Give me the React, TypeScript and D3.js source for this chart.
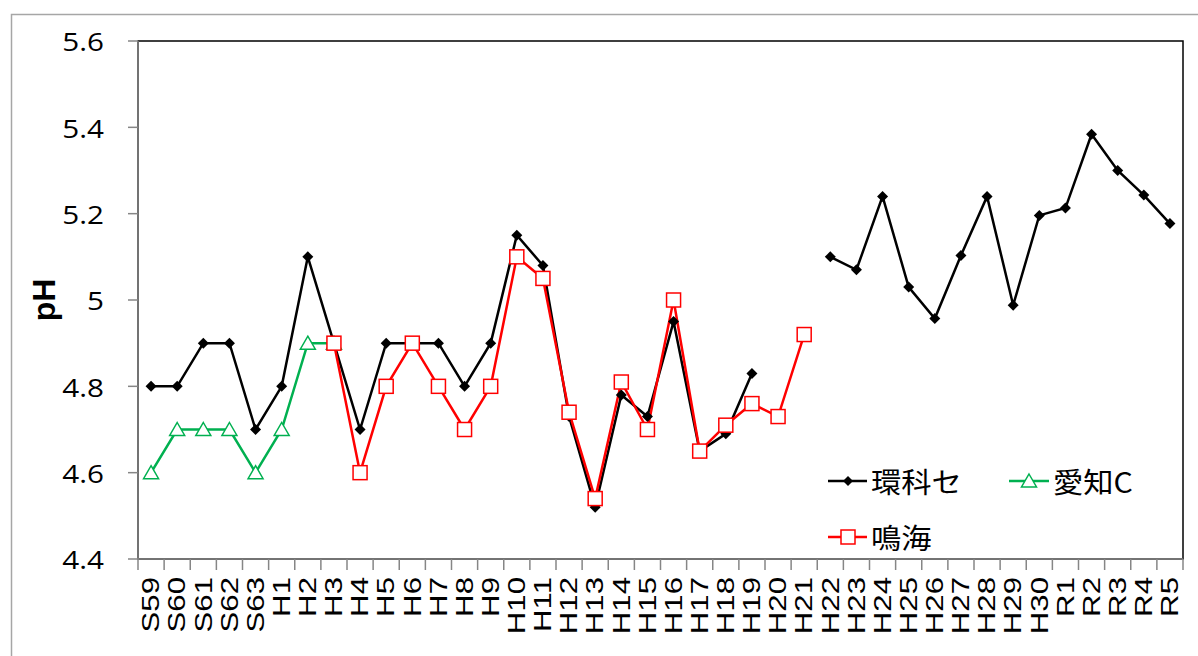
import React from "react";
import * as d3 from "d3";

// Fiscal-year categories (Showa / Heisei / Reiwa)
const years: string[] = [
  "S59", "S60", "S61", "S62", "S63",
  "H1", "H2", "H3", "H4", "H5", "H6", "H7", "H8", "H9", "H10",
  "H11", "H12", "H13", "H14", "H15", "H16", "H17", "H18", "H19", "H20",
  "H21", "H22", "H23", "H24", "H25", "H26", "H27", "H28", "H29", "H30",
  "R1", "R2", "R3", "R4", "R5",
];

// 環科セ
const kankaSe: (number | null)[] = [
  4.8, 4.8, 4.9, 4.9, 4.7,
  4.8, 5.1, 4.9, 4.7, 4.9, 4.9, 4.9, 4.8, 4.9, 5.15,
  5.08, 4.73, 4.52, 4.78, 4.73, 4.95, 4.65, 4.69, 4.83, null,
  null, 5.1, 5.07, 5.24, 5.03, 4.957, 5.103, 5.24, 4.988, 5.196,
  5.213, 5.384, 5.3, 5.243, 5.177,
];

// 愛知C
const aichiC: (number | null)[] = [
  4.6, 4.7, 4.7, 4.7, 4.6,
  4.7, 4.9, 4.9, null, null, null, null, null, null, null,
  null, null, null, null, null, null, null, null, null, null,
  null, null, null, null, null, null, null, null, null, null,
  null, null, null, null, null,
];

// 鳴海
const narumi: (number | null)[] = [
  null, null, null, null, null,
  null, null, 4.9, 4.6, 4.8, 4.9, 4.8, 4.7, 4.8, 5.1,
  5.05, 4.74, 4.54, 4.81, 4.7, 5.0, 4.65, 4.71, 4.76, 4.73,
  4.92, null, null, null, null, null, null, null, null, null,
  null, null, null, null, null,
];

const yTicks: number[] = [4.4, 4.6, 4.8, 5.0, 5.2, 5.4, 5.6];

const W = 1198;
const H = 656;
const plot = { left: 138, top: 41, right: 1183, bottom: 559 };

const x = d3
  .scaleBand<string>()
  .domain(years)
  .range([plot.left, plot.right])
  .paddingInner(0)
  .paddingOuter(0);
const y = d3.scaleLinear().domain([4.4, 5.6]).range([plot.bottom, plot.top]);

const cx = (i: number) => (x(years[i]) as number) + x.bandwidth() / 2;

type Pt = { i: number; v: number };
const pts = (arr: (number | null)[]): Pt[] =>
  arr.map((v, i) => ({ i, v: v as number })).filter((d) => d.v !== null);

const lineGen = d3
  .line<{ i: number; v: number | null }>()
  .defined((d) => d.v !== null)
  .x((d) => cx(d.i))
  .y((d) => y(d.v as number));

const asRows = (arr: (number | null)[]) => arr.map((v, i) => ({ i, v }));

const GREEN = "#00B050";
const RED = "#FF0000";
const tickFont = "'Open Sans', sans-serif";
const labelFont = "'Liberation Sans', Arial, sans-serif";
const cjkFont = "'Noto Sans CJK JP', 'Noto Sans', sans-serif";

const Diamond = ({ px, py, s = 5.5 }: { px: number; py: number; s?: number }) => (
  <path d={`M${px},${py - s}L${px + s},${py}L${px},${py + s}L${px - s},${py}Z`} fill="#000" />
);
const Tri = ({ px, py }: { px: number; py: number }) => (
  <path
    d={`M${px},${py - 7}L${px + 7.5},${py + 6}L${px - 7.5},${py + 6}Z`}
    fill="#fff"
    stroke={GREEN}
    strokeWidth={1.5}
  />
);
const Sq = ({ px, py }: { px: number; py: number }) => (
  <rect x={px - 7} y={py - 7} width={14} height={14} fill="#fff" stroke={RED} strokeWidth={1.5} />
);

const LegendText = ({ tx, ty, label }: { tx: number; ty: number; label: string }) => (
  <text
    transform={`translate(${tx},${ty}) scale(1.08,1)`}
    dominantBaseline="central"
    fontFamily={cjkFont}
    fontSize={28}
    fill="#000"
  >
    {label}
  </text>
);

export default function App() {
  return (
    <svg width={W} height={H} style={{ display: "block", position: "absolute", left: 0, top: 0 }}>
      <rect x={0} y={0} width={W} height={H} fill="#fff" />
      {/* chart frame */}
      <rect x={11.5} y={14.5} width={W} height={H} fill="none" stroke="#a6a6a6" strokeWidth={1.5} />

      {/* plot area border */}
      <rect
        x={plot.left}
        y={plot.top}
        width={plot.right - plot.left}
        height={plot.bottom - plot.top}
        fill="none"
        stroke="#000"
        strokeWidth={1.5}
      />

      {/* y axis */}
      <line x1={plot.left} x2={plot.left} y1={plot.top} y2={plot.bottom} stroke="#868686" strokeWidth={1.5} />
      {yTicks.map((t) => (
        <g key={t}>
          <line x1={plot.left - 10} x2={plot.left} y1={y(t)} y2={y(t)} stroke="#868686" strokeWidth={1.5} />
          <text
            transform={`translate(104,${y(t)}) scale(1.14,1)`}
            textAnchor="end"
            dominantBaseline="central"
            fontFamily={tickFont}
            fontSize={26}
            fill="#000"
          >
            {d3.format("~g")(t)}
          </text>
        </g>
      ))}
      <text
        transform={`translate(44,${(plot.top + plot.bottom) / 2}) rotate(-90)`}
        textAnchor="middle"
        dominantBaseline="central"
        fontFamily={labelFont}
        fontWeight="bold"
        fontSize={32}
      >
        pH
      </text>

      {/* x axis */}
      <line x1={plot.left} x2={plot.right} y1={plot.bottom} y2={plot.bottom} stroke="#868686" strokeWidth={1.5} />
      {years.map((yr) => (
        <line
          key={"t" + yr}
          x1={x(yr) as number}
          x2={x(yr) as number}
          y1={plot.bottom}
          y2={plot.bottom + 11}
          stroke="#868686"
          strokeWidth={1.5}
        />
      ))}
      <line
        x1={plot.right}
        x2={plot.right}
        y1={plot.bottom}
        y2={plot.bottom + 11}
        stroke="#868686"
        strokeWidth={1.5}
      />
      {years.map((yr, i) => (
        <text
          key={"l" + yr}
          transform={`translate(${cx(i)},${plot.bottom + 18}) rotate(-90) scale(1.3,1)`}
          textAnchor="end"
          dominantBaseline="central"
          fontFamily={labelFont}
          fontSize={24}
          fill="#000"
        >
          {yr}
        </text>
      ))}

      {/* series lines */}
      <path d={lineGen(asRows(aichiC)) || ""} fill="none" stroke={GREEN} strokeWidth={2.5} />
      <path d={lineGen(asRows(kankaSe)) || ""} fill="none" stroke="#000" strokeWidth={2.5} />
      <path d={lineGen(asRows(narumi)) || ""} fill="none" stroke={RED} strokeWidth={2.5} />

      {/* markers */}
      {pts(aichiC).map((d) => (
        <Tri key={"a" + d.i} px={cx(d.i)} py={y(d.v)} />
      ))}
      {pts(kankaSe).map((d) => (
        <Diamond key={"k" + d.i} px={cx(d.i)} py={y(d.v)} />
      ))}
      {pts(narumi).map((d) => (
        <Sq key={"n" + d.i} px={cx(d.i)} py={y(d.v)} />
      ))}

      {/* legend */}
      <g>
        <line x1={828} x2={867} y1={481} y2={481} stroke="#000" strokeWidth={2.5} />
        <Diamond px={848} py={481} s={5} />
        <LegendText tx={871} ty={481} label="環科セ" />
        <line x1={1009} x2={1049} y1={481} y2={481} stroke={GREEN} strokeWidth={2.5} />
        <Tri px={1029} py={481} />
        <LegendText tx={1053} ty={481} label="愛知C" />
        <line x1={828} x2={867} y1={537} y2={537} stroke={RED} strokeWidth={2.5} />
        <Sq px={848} py={537} />
        <LegendText tx={871} ty={537} label="鳴海" />
      </g>
    </svg>
  );
}
